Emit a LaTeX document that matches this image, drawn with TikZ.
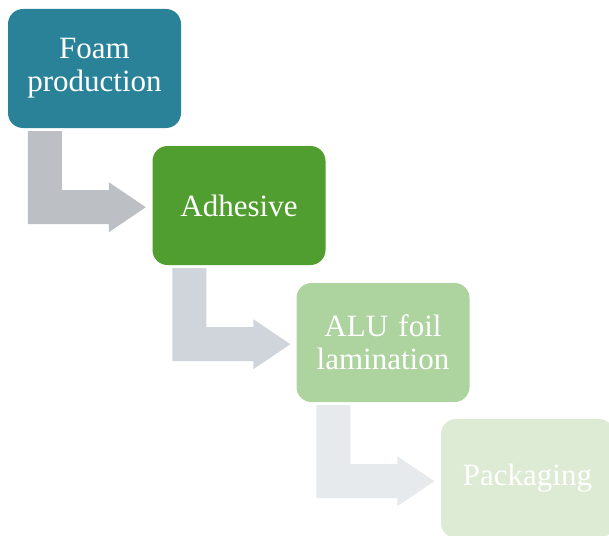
\documentclass[tikz,border=0pt]{standalone}
\usepackage{fontspec}
\setmainfont{Liberation Serif}
\definecolor{cA}{HTML}{2A8299}
\definecolor{cB}{HTML}{509E2F}
\definecolor{cC}{HTML}{ADD39F}
\definecolor{cD}{HTML}{DDEAD4}
\definecolor{aA}{HTML}{BCC0C4}
\definecolor{aB}{HTML}{D0D5DB}
\definecolor{aC}{HTML}{E7EAED}
\tikzset{
  stagebox/.style={rectangle, rounded corners=15pt, minimum width=173pt, minimum height=119pt,
    inner sep=0pt, text width=165pt, align=center, text=white,
    font=\fontsize{31}{33}\selectfont},
  bentarrow/.style={draw=none}
}
\newcommand{\bentshape}{(20,3) -- (54,3) -- (54,62) -- (101,62) -- (101,54) -- (138,79) -- (101,104) -- (101,96) -- (20,96) -- cycle}
\begin{document}
\begin{tikzpicture}[x=1pt,y=-1pt]
\useasboundingbox (0,0) rectangle (609,535);
\clip (0,0) rectangle (609,535);
\fill[white] (0,0) rectangle (609,535);
\node[stagebox, fill=cA] (b1) at (94.5,68.5) {Foam production};
\node[stagebox, fill=cB] (b2) at (239,205.5) {Adhesive};
\node[stagebox, fill=cC] (b3) at (383,342.5) {ALU foil lamination};
\node[stagebox, fill=cD] (b4) at (527.5,478.5) {Packaging};
\fill[aA, shift={(b1.south west)}] \bentshape;
\fill[aB, shift={(b2.south west)}] \bentshape;
\fill[aC, shift={(b3.south west)}] \bentshape;
\end{tikzpicture}
\end{document}
